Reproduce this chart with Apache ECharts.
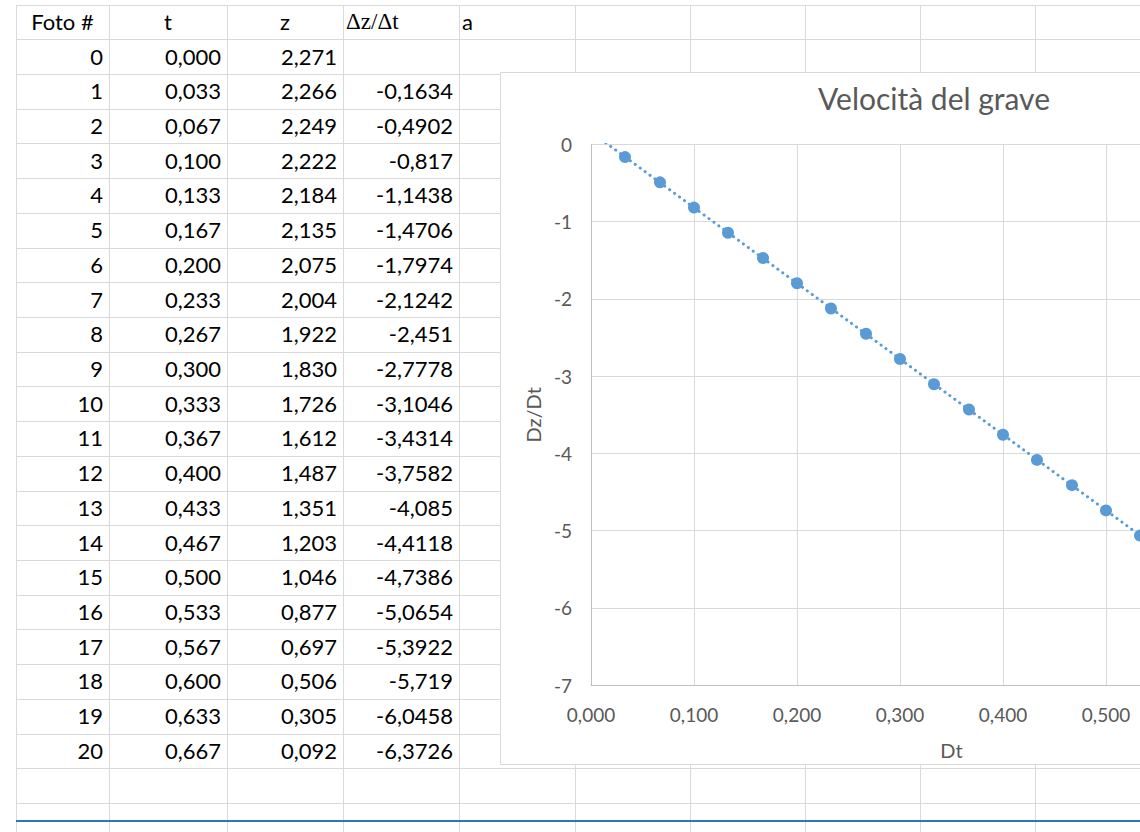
<!DOCTYPE html>
<html><head><meta charset="utf-8">
<script src="https://cdn.jsdelivr.net/npm/echarts@6/dist/echarts.min.js"></script>
<style>
html,body{margin:0;padding:0;width:1140px;height:832px;overflow:hidden;background:#fff;}
#sheet{position:absolute;left:0;top:0;width:1140px;height:832px;}
.vl{position:absolute;width:1px;background:#d9d9d9;}
.hl{position:absolute;height:1px;background:#d9d9d9;}
.cell{position:absolute;font-family:Lato,"Open Sans",sans-serif;font-size:22px;color:#000;white-space:nowrap;overflow:visible;}
#chart{position:absolute;left:500px;top:72px;width:880px;height:693px;background:#fff;}
</style></head>
<body>
<div id="sheet"></div>
<div id="chart"></div>
<script>
// ---- data ----
const headers = ['Foto #', 't', 'z', '\u0394z/\u0394t', 'a'];
const foto = [0,1,2,3,4,5,6,7,8,9,10,11,12,13,14,15,16,17,18,19,20];
const tVals = [0.000,0.033,0.067,0.100,0.133,0.167,0.200,0.233,0.267,0.300,0.333,0.367,0.400,0.433,0.467,0.500,0.533,0.567,0.600,0.633,0.667];
const zVals = [2.271,2.266,2.249,2.222,2.184,2.135,2.075,2.004,1.922,1.830,1.726,1.612,1.487,1.351,1.203,1.046,0.877,0.697,0.506,0.305,0.092];
const dzdt = [null,-0.1634,-0.4902,-0.817,-1.1438,-1.4706,-1.7974,-2.1242,-2.451,-2.7778,-3.1046,-3.4314,-3.7582,-4.085,-4.4118,-4.7386,-5.0654,-5.3922,-5.719,-6.0458,-6.3726];
const chartTitle = 'Velocit\u00e0 del grave';
const xName = 'Dt';
const yName = 'Dz/Dt';

// ---- spreadsheet layout ----
const sheet = document.getElementById('sheet');
const colX = [16,109,227,343,459,575,690,805,920,1035];
const topY = 5, firstRowY = 39.3, rowH = 34.71;
function add(cls, css, text){
  const d = document.createElement('div');
  d.className = cls;
  Object.assign(d.style, css);
  if (text !== undefined) d.textContent = text;
  sheet.appendChild(d);
  return d;
}
colX.forEach(x => add('vl', {left:x+'px', top:topY+'px', height:(832-topY)+'px'}));
add('hl', {left:colX[0]+'px', top:topY+'px', width:(1140-colX[0])+'px'});
for (let k=0;k<=22;k++){
  const y = Math.round(firstRowY + k*rowH);
  add('hl', {left:colX[0]+'px', top:y+'px', width:(1140-colX[0])+'px'});
}
add('hl', {left:colX[0]+'px', top:'820px', width:(1140-colX[0])+'px', height:'2px', background:'#2e75b6'});

function headerCell(c, text, align, font, size){
  const x0 = colX[c], w = colX[c+1]-colX[c];
  const css = {left:x0+'px', top:(22-17)+'px', width:(w)+'px', height:'34px', lineHeight:'34px', textAlign:align};
  if (align==='left') { css.left = (x0+3)+'px'; css.width=(w-3)+'px'; }
  if (font) css.fontFamily = font;
  if (size) css.fontSize = size;
  add('cell', css, text);
}
headerCell(0, headers[0], 'center');
headerCell(1, headers[1], 'center');
headerCell(2, headers[2], 'center');
headerCell(3, headers[3], 'left', '"Liberation Serif", serif', '23px');
headerCell(4, headers[4], 'left');

function fmt(v, d){ return (d===undefined? String(v) : v.toFixed(d)).replace('.', ','); }
for (let r=0;r<foto.length;r++){
  const cy = firstRowY + rowH*(r+0.5);
  const vals = [String(foto[r]), fmt(tVals[r],3), fmt(zVals[r],3), dzdt[r]===null ? '' : fmt(dzdt[r])];
  vals.forEach((txt,c)=>{
    const x0 = colX[c], w = colX[c+1]-colX[c];
    add('cell', {left:x0+'px', top:(cy-17)+'px', width:(w-6)+'px', height:'34px', lineHeight:'34px', textAlign:'right'}, txt);
  });
}

// ---- chart ----
const chart = echarts.init(document.getElementById('chart'), null, {renderer:'svg', width:880, height:693});
const pts = [];
for (let i=0;i<tVals.length;i++) if (dzdt[i]!==null) pts.push([tVals[i], dzdt[i]]);
let sx=0,sy=0,sxx=0,sxy=0;
pts.forEach(p=>{sx+=p[0];sy+=p[1];sxx+=p[0]*p[0];sxy+=p[0]*p[1];});
const n = pts.length;
const slope = (n*sxy - sx*sy)/(n*sxx - sx*sx);
const icpt = (sy - slope*sx)/n;
const tEnd = tVals[tVals.length-1];
const trend = [[tVals[0], icpt + slope*tVals[0]], [tEnd, icpt + slope*tEnd]];

const gray = '#595959';
const font = 'Lato';
// x labels beyond the visible window (the chart is cropped at the page edge) are left blank
const visibleXMax = 0.55;
chart.setOption({
  animation:false,
  textStyle:{fontFamily:font},
  graphic:[
    {type:'rect', silent:true, z:-10, shape:{x:0.5,y:0.5,width:879,height:692}, style:{fill:'#fff', stroke:'#d9d9d9', lineWidth:1}},
    {type:'text', silent:true, x:434, y:26, style:{text:chartTitle, fontSize:30, fontFamily:font, fill:gray, align:'center', verticalAlign:'middle'}}
  ],
  grid:{left:91, top:72.5, right:68, bottom:77.7},
  xAxis:{
    type:'value', min:0, max:0.7, interval:0.1,
    name:xName, nameLocation:'middle', nameGap:55,
    nameTextStyle:{fontSize:20, color:gray, fontFamily:font},
    axisLine:{show:true, onZero:false, lineStyle:{color:'#bfbfbf', width:1}},
    axisTick:{show:false},
    axisLabel:{fontSize:19, color:gray, margin:20, fontFamily:font,
      formatter:v=> v > visibleXMax ? '' : v.toFixed(3).replace('.', ',')},
    splitLine:{show:true, lineStyle:{color:'#d9d9d9', width:1}}
  },
  yAxis:{
    type:'value', min:-7, max:0, interval:1,
    name:yName, nameLocation:'middle', nameGap:46, nameRotate:90,
    nameTextStyle:{fontSize:20, color:gray, fontFamily:font},
    axisLine:{show:true, onZero:false, lineStyle:{color:'#bfbfbf', width:1}},
    axisTick:{show:false},
    axisLabel:{fontSize:19, color:gray, margin:19, fontFamily:font},
    splitLine:{show:true, lineStyle:{color:'#d9d9d9', width:1}}
  },
  series:[
    {type:'line', data:trend, showSymbol:false, silent:true, clip:true,
     lineStyle:{color:'#5b9bd5', width:3, type:[0.1,6], cap:'round'}},
    {type:'scatter', data:pts, symbol:'circle', symbolSize:12, itemStyle:{color:'#5b9bd5', opacity:1}}
  ]
});
</script>
</body></html>
